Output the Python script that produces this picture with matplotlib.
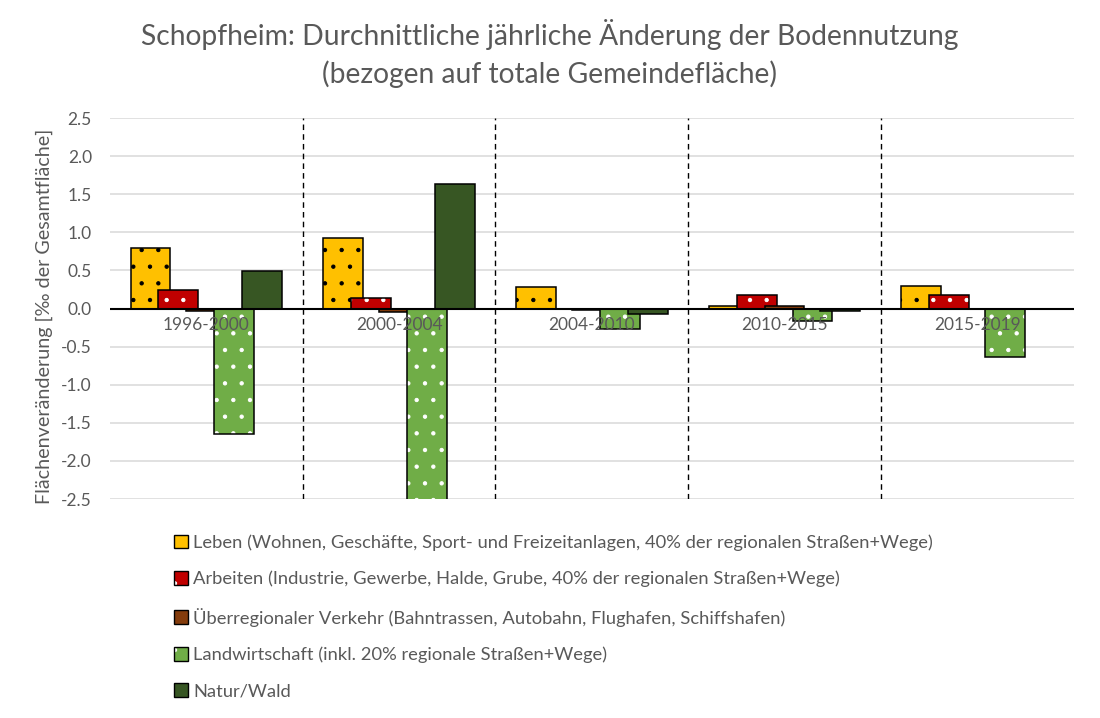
import numpy as np
import matplotlib.pyplot as plt
from matplotlib.patches import Patch

plt.rcParams['font.family'] = ['Lato', 'DejaVu Sans']
plt.rcParams['hatch.linewidth'] = 0.7

periods = ['1996-2000', '2000-2004', '2004-2010', '2010-2015', '2015-2019']
series = [
    'Leben (Wohnen, Geschäfte, Sport- und Freizeitanlagen, 40% der regionalen Straßen+Wege)',
    'Arbeiten (Industrie, Gewerbe, Halde, Grube, 40% der regionalen Straßen+Wege)',
    'Überregionaler Verkehr (Bahntrassen, Autobahn, Flughafen, Schiffshafen)',
    'Landwirtschaft (inkl. 20% regionale Straßen+Wege)',
    'Natur/Wald',
]
leben = [0.79, 0.92, 0.28, 0.03, 0.29]
arbeiten = [0.24, 0.14, -0.01, 0.18, 0.18]
verkehr = [-0.03, -0.04, -0.02, 0.03, 0.0]
landwirtschaft = [-1.65, -2.9, -0.27, -0.17, -0.63]
natur = [0.49, 1.63, -0.07, -0.03, 0.0]

values = [leben, arbeiten, verkehr, landwirtschaft, natur]
colors = ['#FFC000', '#C00000', '#843C0C', '#70AD47', '#375623']
dot_colors = ['black', 'white', None, 'white', None]

grey = '#595959'
fig = plt.figure(figsize=(11, 7.18), dpi=100)
ax = fig.add_axes([0.1, 0.305, 0.876, 0.5306])

x = np.arange(len(periods))
step = 0.145
width = 0.207
for i, (vals, c, dc) in enumerate(zip(values, colors, dot_colors)):
    pos = x + (i - 2) * step
    if dc:
        ax.bar(pos, vals, width, color=c, edgecolor=dc, hatch='.', linewidth=0, zorder=2 + i)
    else:
        ax.bar(pos, vals, width, color=c, linewidth=0, zorder=2 + i)
    ax.bar(pos, vals, width, fill=False, edgecolor='black', linewidth=1.1, zorder=2 + i)

ax.set_xlim(-0.5, len(periods) - 0.5)
ax.set_ylim(-2.5, 2.5)
ax.set_yticks(np.arange(-2.5, 2.51, 0.5))
ax.set_yticklabels([f'{v:.1f}' for v in np.arange(-2.5, 2.51, 0.5)])
ax.set_xticks([])
ax.tick_params(axis='y', length=0, pad=13, labelsize=12.5, labelcolor=grey)
ax.grid(axis='y', color='#D9D9D9', linewidth=1.1, zorder=0)
ax.set_axisbelow(True)
for s in ax.spines.values():
    s.set_visible(False)
ax.axhline(0, color='black', linewidth=1.5, zorder=10)
for b in x[:-1] + 0.5:
    ax.axvline(b, color='black', linestyle=(0, (4, 3)), linewidth=1, zorder=1)

for xi, p in zip(x, periods):
    ax.annotate(p, (xi, 0), xytext=(0, -6), textcoords='offset points',
                ha='center', va='top', fontsize=12.5, color=grey, zorder=12)

ax.set_ylabel('Flächenveränderung [‰ der Gesamtfläche]', fontsize=14.2, color=grey)
ax.yaxis.set_label_coords(-0.059, 0.48)

fig.text(0.5, 0.925, 'Schopfheim: Durchnittliche jährliche Änderung der Bodennutzung\n(bezogen auf totale Gemeindefläche)',
         ha='center', va='center', fontsize=20.3, color=grey, linespacing=1.45)

handles = []
for c, dc in zip(colors, dot_colors):
    if dc:
        handles.append((Patch(facecolor=c, edgecolor=dc, hatch='.', linewidth=0),
                        Patch(fill=False, edgecolor='black', linewidth=1)))
    else:
        handles.append(Patch(facecolor=c, edgecolor='black', linewidth=1))
fig.legend(handles, series, loc='upper left', bbox_to_anchor=(0.158, 0.256), frameon=False,
           fontsize=13.2, handlelength=0.75, handleheight=0.75, handletextpad=0.3,
           labelspacing=1.1, labelcolor=grey, borderaxespad=0, borderpad=0)

fig.savefig('out.png', dpi=100)
